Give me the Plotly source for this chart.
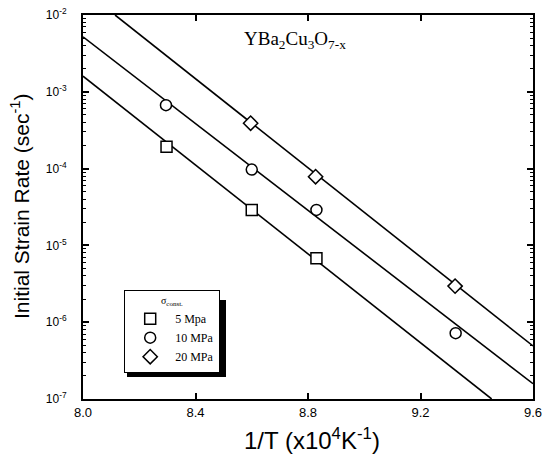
import plotly.graph_objects as go

# data points (1/T in 1e4/K, strain rate in 1/s)
x_5 = [8.297, 8.60, 8.83]
y_5 = [1.93e-4, 2.9e-5, 6.8e-6]
x_10 = [8.295, 8.60, 8.83, 9.325]
y_10 = [6.7e-4, 9.7e-5, 2.9e-5, 7.2e-7]
x_20 = [8.596, 8.827, 9.323]
y_20 = [3.9e-4, 7.85e-5, 2.95e-6]

# fitted lines (endpoints)
fit5_x = [8.0, 9.453]
fit5_y = [1.6e-3, 1.0e-7]
fit10_x = [8.0, 9.6]
fit10_y = [5.2e-3, 1.58e-7]
fit20_x = [8.114, 9.6]
fit20_y = [1.0e-2, 4.9e-7]

x_ticks = [8.0, 8.4, 8.8, 9.2, 9.6]
x_ticktext = ["8.0", "8.4", "8.8", "9.2", "9.6"]
y_ticks = [1e-7, 1e-6, 1e-5, 1e-4, 1e-3, 1e-2]
y_ticktext = ["10<sup>-7</sup>", "10<sup>-6</sup>", "10<sup>-5</sup>",
              "10<sup>-4</sup>", "10<sup>-3</sup>", "10<sup>-2</sup>"]

minor_y = [k * d for d in [1e-7, 1e-6, 1e-5, 1e-4, 1e-3] for k in range(2, 10)]

fig = go.Figure()
for fx, fy in [(fit5_x, fit5_y), (fit10_x, fit10_y), (fit20_x, fit20_y)]:
    fig.add_trace(go.Scatter(x=fx, y=fy, mode="lines", line=dict(color="black", width=1.6),
                             showlegend=False, hoverinfo="skip"))

mk = dict(color="white", size=11, line=dict(color="black", width=1.5))
fig.add_trace(go.Scatter(x=x_5, y=y_5, mode="markers", name="5 Mpa",
                         marker=dict(symbol="square", **mk)))
fig.add_trace(go.Scatter(x=x_10, y=y_10, mode="markers", name="10 MPa",
                         marker=dict(symbol="circle", **mk)))
fig.add_trace(go.Scatter(x=x_20, y=y_20, mode="markers", name="20 MPa",
                         marker=dict(symbol="diamond", **mk)))

W, H = 545, 460
L, T = 83, 15
R = W - 533
B = H - 399
pw, ph = W - L - R, H - T - B

def px(x):
    return (x - L) / pw

def py(y):
    return (H - B - y) / ph

fig.update_layout(
    width=W, height=H,
    margin=dict(l=L, r=R, t=T, b=B),
    paper_bgcolor="white", plot_bgcolor="white",
    font=dict(family="Liberation Sans, Arial", color="black", size=12),
    xaxis=dict(
        range=[8.0, 9.6], tickvals=x_ticks, ticktext=x_ticktext,
        ticks="inside", ticklen=6, tickwidth=1.5, tickcolor="black",
        showline=True, linewidth=2, linecolor="black", mirror="ticks",
        showgrid=False, zeroline=False, automargin=False,
        tickfont=dict(size=13),
    ),
    yaxis=dict(
        type="log", range=[-7, -2], tickvals=y_ticks, ticktext=y_ticktext,
        ticks="inside", ticklen=6, tickwidth=1.5, tickcolor="black",
        showline=True, linewidth=2, linecolor="black", mirror="ticks",
        showgrid=False, zeroline=False, automargin=False,
        tickfont=dict(size=12), ticklabelstandoff=12,
        minor=dict(tickvals=minor_y, ticks="inside", ticklen=3, tickwidth=1, tickcolor="black", showgrid=False),
    ),
    legend=dict(
        x=px(124), y=py(290), xanchor="left", yanchor="top",
        bgcolor="white", bordercolor="black", borderwidth=1.2,
        font=dict(family="Liberation Serif, Times New Roman", size=12),
        title=dict(text="σ<sub>const.</sub>", font=dict(family="Liberation Serif", size=10), side="top center"),
        tracegroupgap=0, itemwidth=40,
    ),
    annotations=[
        dict(text="YBa<sub>2</sub>Cu<sub>3</sub>O<sub>7-x</sub>", x=px(242), y=py(40),
             xref="paper", yref="paper", xanchor="left", yanchor="middle", showarrow=False,
             font=dict(family="Liberation Serif, Times New Roman", size=19)),
        dict(text="Initial Strain Rate (sec<sup>-1</sup>)", x=px(20), y=py(207),
             xref="paper", yref="paper", xanchor="center", yanchor="middle", showarrow=False,
             textangle=-90, font=dict(size=21)),
        dict(text="1/T (x10<sup>4</sup>K<sup>-1</sup>)", x=px(312), y=py(439),
             xref="paper", yref="paper", xanchor="center", yanchor="middle", showarrow=False,
             font=dict(size=24)),
    ],
    shapes=[dict(type="rect", xref="paper", yref="paper",
                 x0=px(127), x1=px(226), y0=py(377), y1=py(300),
                 fillcolor="black", line=dict(width=0), layer="above")],
)

fig.write_html("out.html", post_script="document.body.style.margin='0';",
               config={"displayModeBar": False})
